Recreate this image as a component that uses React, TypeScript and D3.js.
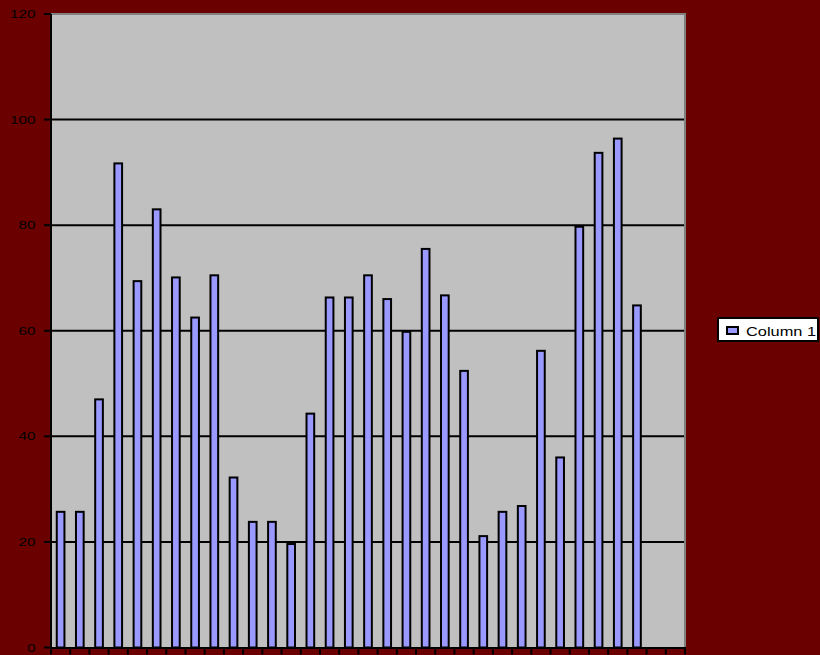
import React, { useEffect, useRef } from "react";
import * as d3 from "d3";

// 33 categories, the last two are empty
const categories: string[] = d3.range(1, 34).map(String);
const column1: (number | null)[] = [
  25.7, 25.7, 47.0, 91.7, 69.4, 83.0, 70.1, 62.5, 70.5, 32.2, 23.8, 23.8, 19.6,
  44.3, 66.3, 66.3, 70.5, 66.0, 59.8, 75.5, 66.7, 52.4, 21.1, 25.7, 26.8, 56.2,
  36.0, 79.7, 93.7, 96.4, 64.8, null, null,
];
const yTicks: number[] = [0, 20, 40, 60, 80, 100, 120];
const seriesName = "Column 1";

const W = 820;
const H = 655;

export default function App() {
  const ref = useRef<SVGSVGElement | null>(null);

  useEffect(() => {
    const svg = d3.select(ref.current);
    svg.selectAll("*").remove();

    const left = 51;
    const right = 685;
    const top = 14;
    const bottom = 647.5;

    svg.append("rect").attr("width", W).attr("height", H).attr("fill", "#6b0000");

    const x = d3.scaleBand<string>().domain(categories).range([left, right]);
    const y = d3.scaleLinear().domain([0, 120]).range([bottom, top]);

    // plot area
    svg
      .append("rect")
      .attr("x", left)
      .attr("y", top)
      .attr("width", right - left)
      .attr("height", bottom - top)
      .attr("fill", "#c0c0c0");
    // gray border top / right
    svg
      .append("path")
      .attr("d", `M${left},${top} H${right} V${bottom}`)
      .attr("fill", "none")
      .attr("stroke", "#808080")
      .attr("stroke-width", 2);

    // gridlines
    svg
      .selectAll("line.grid")
      .data(yTicks.filter((t) => t > 0 && t < 120))
      .enter()
      .append("line")
      .attr("x1", left)
      .attr("x2", right - 1)
      .attr("y1", (d) => y(d))
      .attr("y2", (d) => y(d))
      .attr("stroke", "#000")
      .attr("stroke-width", 2);

    // bars
    const step = x.step();
    const bw = step * 0.4;
    svg
      .selectAll("rect.bar")
      .data(categories.map((c, i) => ({ c, v: column1[i] })).filter((d) => d.v != null))
      .enter()
      .append("rect")
      .attr("x", (d) => (x(d.c) as number) + (step - bw) / 2)
      .attr("y", (d) => y(d.v as number))
      .attr("width", bw)
      .attr("height", (d) => bottom - y(d.v as number))
      .attr("fill", "#9999ff")
      .attr("stroke", "#000")
      .attr("stroke-width", 2);

    // axes lines
    svg
      .append("line")
      .attr("x1", left)
      .attr("x2", left)
      .attr("y1", top)
      .attr("y2", bottom + 1)
      .attr("stroke", "#000")
      .attr("stroke-width", 2);
    svg
      .append("line")
      .attr("x1", left - 1)
      .attr("x2", right + 1)
      .attr("y1", bottom + 0.5)
      .attr("y2", bottom + 0.5)
      .attr("stroke", "#000")
      .attr("stroke-width", 2);

    // y ticks and labels
    svg
      .selectAll("line.ytick")
      .data(yTicks)
      .enter()
      .append("line")
      .attr("x1", left - 7)
      .attr("x2", left)
      .attr("y1", (d) => y(d))
      .attr("y2", (d) => y(d))
      .attr("stroke", "#000")
      .attr("stroke-width", 2);
    svg
      .selectAll("text.ylab")
      .data(yTicks)
      .enter()
      .append("text")
      .attr("x", (d) => 36 - String(d).length * 8.7)
      .attr("y", (d) => y(d) + 4)
      .attr("textLength", (d) => String(d).length * 8.7 - 0.5)
      .attr("lengthAdjust", "spacingAndGlyphs")
      .attr("font-family", "Liberation Sans, Arial, sans-serif")
      .attr("font-size", 10.5)
      .attr("fill", "#000")
      .text((d) => String(d));

    // x ticks at category boundaries
    const bounds = categories.map((c) => x(c) as number).concat([right]);
    svg
      .selectAll("line.xtick")
      .data(bounds)
      .enter()
      .append("line")
      .attr("x1", (d) => d)
      .attr("x2", (d) => d)
      .attr("y1", bottom)
      .attr("y2", bottom + 7)
      .attr("stroke", "#000")
      .attr("stroke-width", 2);

    // legend
    const lg = svg.append("g");
    lg.append("rect")
      .attr("x", 718)
      .attr("y", 318)
      .attr("width", 100)
      .attr("height", 23)
      .attr("fill", "#fff")
      .attr("stroke", "#000")
      .attr("stroke-width", 2);
    lg.append("rect")
      .attr("x", 727)
      .attr("y", 327)
      .attr("width", 11)
      .attr("height", 7)
      .attr("fill", "#9999ff")
      .attr("stroke", "#000")
      .attr("stroke-width", 2);
    lg.append("text")
      .attr("x", 746)
      .attr("y", 336)
      .attr("textLength", 70)
      .attr("lengthAdjust", "spacingAndGlyphs")
      .attr("font-family", "Liberation Sans, Arial, sans-serif")
      .attr("font-size", 12.5)
      .attr("fill", "#000")
      .text(seriesName);
  }, []);

  return (
    <svg
      ref={ref}
      width={W}
      height={H}
      style={{ position: "absolute", left: 0, top: 0, display: "block" }}
    />
  );
}
